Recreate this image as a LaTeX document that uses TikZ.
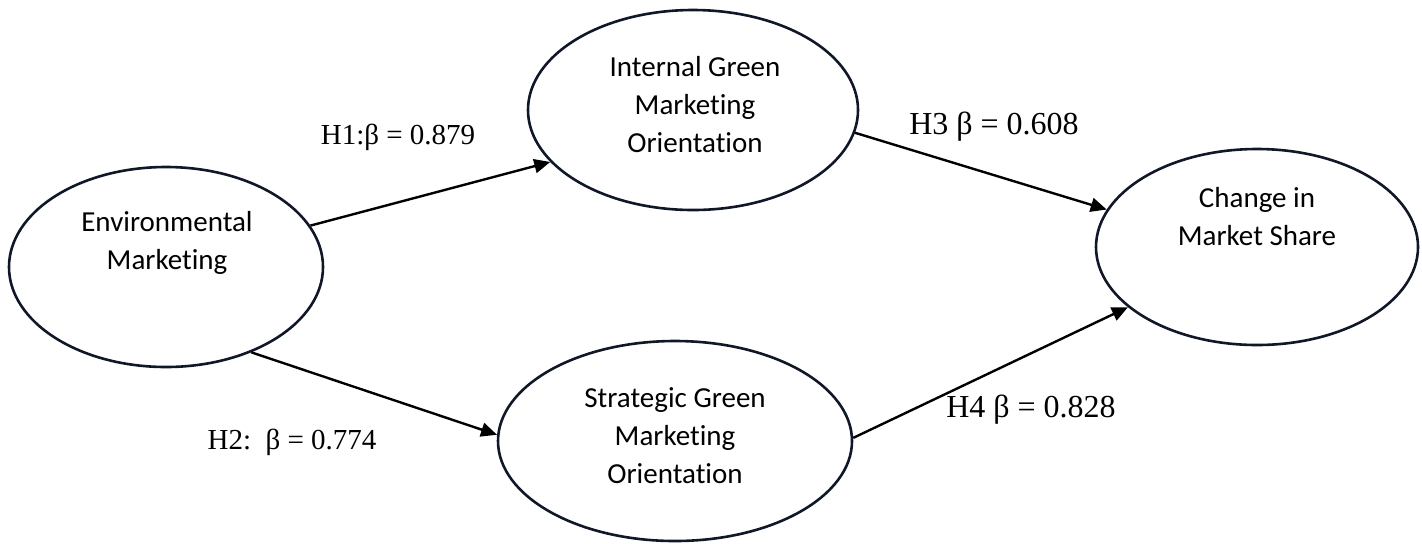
\documentclass[tikz,border=0pt]{standalone}
\usepackage{fontspec}
\setmainfont{Liberation Serif}
\newfontfamily\boxfont[Ligatures=CommonOff]{Carlito}
\usetikzlibrary{arrows.meta,shapes.geometric}
\definecolor{rim}{RGB}{16,24,40}

\begin{document}
\begin{tikzpicture}[x=0.5pt, y=-0.5pt,
  construct/.style={ellipse, draw=rim, line width=1.3pt, inner sep=0pt, minimum height=100pt},
  boxtext/.style={align=center, font=\boxfont\fontsize{14.5}{19}\selectfont},
  link/.style={-{Triangle[length=8pt,width=7pt]}, line width=1.2pt},
  coef/.style={font=\fontsize{14.5}{17}\selectfont},
  bigcoef/.style={font=\fontsize{16}{19}\selectfont}]
\useasboundingbox (0,0) rectangle (1422,543);
\node[construct, minimum width=157pt] (env) at (166,267) {};
\node[construct, minimum width=165pt] (igmo) at (693,110) {};
\node[construct, minimum width=177pt] (sgmo) at (675,441) {};
\node[construct, minimum width=161pt, minimum height=98pt] (share) at (1257,247) {};
\node[boxtext] (envtext) at (167,243) {Environmental\\Marketing};
\node[boxtext] (igmotext) at (695,105) {Internal Green\\Marketing\\Orientation};
\node[boxtext] (sgmotext) at (675,436) {Strategic Green\\Marketing\\Orientation};
\node[boxtext] (sharetext) at (1257,217) {Change in\\Market Share};
\draw[link] (env.16) -- (igmo.200);
\draw[link] (env.-45) -- (sgmo.178);
\draw[link] (igmo.-8) -- (share.166);
\draw[link] (sgmo.1) -- (share.205);
\node[coef] (h1) at (398,137) {H1:β = 0.879};
\node[coef] (h2) at (292,442) {H2:\ \ β = 0.774};
\node[bigcoef] (h3) at (994,127) {H3 β = 0.608};
\node[bigcoef] (h4) at (1031,410) {H4 β = 0.828};
\end{tikzpicture}
\end{document}
